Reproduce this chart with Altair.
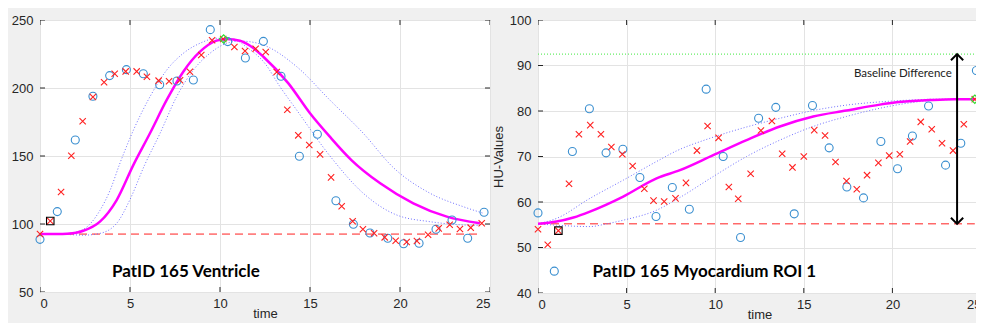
import altair as alt
import pandas as pd

# ---------------- Left panel: PatID 165 Ventricle ----------------
L_circ_t = [0, 0.96, 1.96, 2.94, 3.87, 4.8, 5.74, 6.65, 7.61, 8.52, 9.46, 10.43, 11.41, 12.41,
            13.39, 14.41, 15.41, 16.44, 17.41, 18.33, 19.32, 20.2, 21.06, 22.0, 22.89, 23.76, 24.67]
L_circ_v = [88.7, 109.1, 161.8, 193.9, 209.1, 213.5, 210.5, 202.4, 205.1, 205.9, 242.9, 234.1, 222.1, 234.3,
            208.6, 149.8, 166.0, 117.1, 99.8, 93.4, 89.5, 85.5, 85.8, 96.1, 102.9, 89.5, 108.6]

L_x_t = [0, 0.57, 1.17, 1.74, 2.37, 2.94, 3.56, 4.15, 4.76, 5.37, 5.94, 6.59, 7.17, 7.78, 8.33, 8.96,
         9.56, 10.18, 10.8, 11.39, 11.98, 12.54, 13.15, 13.74, 14.35, 14.96, 15.56, 16.17, 16.76, 17.37,
         17.94, 18.56, 19.15, 19.76, 20.37, 20.94, 21.56, 22.15, 22.76, 23.33, 23.93, 24.54]
L_x_v = [92.6, 102.2, 123.5, 150.2, 175.5, 193.4, 204.2, 210.5, 212.2, 212.2, 208.3, 205.4, 205.0, 205.7,
         212.0, 224.3, 235.1, 236.0, 230.1, 227.2, 228.9, 226.5, 211.8, 184.0, 165.2, 158.1, 151.2, 134.3,
         113.0, 102.0, 96.1, 93.2, 90.2, 87.7, 86.8, 87.5, 92.1, 96.8, 99.5, 96.3, 97.3, 100.5]

L_fit_t = [0, 1.0, 1.5, 2.0, 2.41, 3.33, 4.26, 5.19, 6.11, 7.04, 7.96, 8.89, 9.81, 10.37, 11.11, 11.67,
           12.41, 13.8, 15.0, 16.1, 17.3, 18.9, 20.74, 22.6, 24.44]
L_fit_v = [92.6, 92.6, 92.8, 93.5, 95.0, 101.7, 117.6, 143.5, 166.7, 191.2, 212.0, 226.7, 234.8, 236.0,
           234.8, 231.1, 223.0, 203.4, 181.4, 164.2, 147.0, 129.9, 115.2, 105.4, 100.5]

L_ciA_t = [0, 1.5, 2.4, 3.33, 3.9, 4.45, 5.19, 6.11, 7.04, 7.96, 8.89, 9.81, 10.74, 11.48, 12.5,
           13.33, 14.26, 16.11, 17.96, 19.82, 21.67, 23.52, 24.44]
L_ciA_v = [92.6, 93.0, 96.0, 110.0, 125.0, 145.0, 169.0, 193.6, 213.2, 225.5, 232.9, 236.5, 236.0, 230.0,
           218.0, 201.0, 183.8, 150.0, 122.6, 106.6, 101.7, 99.3, 99.0]
L_ciB_t = [0, 1.5, 2.41, 3.3, 4.26, 5.0, 5.8, 6.67, 7.59, 8.52, 9.44, 10.37, 11.1, 11.67, 12.41, 14.26,
           16.1, 17.96, 19.63, 21.67, 23.52, 24.63]
L_ciB_v = [92.6, 92.3, 91.8, 93.0, 100.5, 118.0, 143.0, 166.7, 193.6, 213.2, 225.5, 232.9, 234.5, 234.0,
           231.6, 215.7, 191.2, 166.7, 141.5, 122.6, 112.7, 107.9]

L_base = 92.6
L_base_end = 24.4
L_peak = (10.2, 236.0)
L_start = (0.57, 102.2)
L_label = "PatID 165 Ventricle"
L_label_pos = (4.0, 65.0)

# ---------------- Right panel: PatID 165 Myocardium ROI 1 ----------------
R_circ_t = [0, 0.92, 1.94, 2.9, 3.84, 4.79, 5.75, 6.66, 7.58, 8.54, 9.49, 10.45, 11.43, 12.45, 13.42,
            14.46, 15.49, 16.43, 17.43, 18.37, 19.35, 20.29, 21.13, 22.04, 23.0, 23.86, 24.74]
R_circ_v = [57.6, 44.8, 71.1, 80.5, 70.8, 71.6, 65.4, 56.8, 63.2, 58.4, 84.8, 70.0, 52.2, 78.4, 80.8,
            57.4, 81.2, 71.9, 63.3, 60.9, 73.3, 67.3, 74.5, 81.1, 68.1, 72.9, 88.9]

R_x_t = [0, 0.55, 1.15, 1.75, 2.31, 2.95, 3.55, 4.14, 4.76, 5.34, 6.0, 6.52, 7.12, 7.76, 8.35, 8.97,
         9.57, 10.19, 10.77, 11.3, 12.0, 12.58, 13.2, 13.78, 14.36, 15.0, 15.59, 16.2, 16.79, 17.41,
         17.99, 18.57, 19.21, 19.82, 20.42, 21.0, 21.6, 22.22, 22.8, 23.42, 24.03, 24.65]
R_x_v = [54.0, 50.6, 53.7, 64.0, 74.9, 76.9, 74.9, 72.1, 70.5, 67.9, 62.9, 60.3, 60.1, 60.8, 64.2, 71.3,
         76.7, 74.1, 63.3, 60.7, 66.2, 75.7, 77.8, 70.6, 67.6, 70.0, 75.8, 74.6, 68.8, 64.6,
         62.8, 65.9, 68.6, 70.2, 70.5, 73.3, 77.6, 76.0, 72.9, 71.3, 77.1, 82.6]

R_fit_t = [0, 1.05, 2.0, 2.93, 4.81, 6.69, 8.01, 9.89, 11.77, 13.65, 15.53, 17.41, 19.29, 20.23, 22.1,
           23.5, 24.65]
R_fit_v = [55.2, 55.7, 56.6, 57.9, 61.2, 65.2, 67.0, 70.3, 73.6, 76.6, 78.8, 80.1, 81.4, 81.9, 82.4,
           82.6, 82.6]
R_ciA_t = [0, 1.05, 2.93, 4.81, 6.69, 7.8, 9.7, 11.6, 13.65, 15.53, 17.41, 19.29, 21.0, 22.5, 24.65]
R_ciA_v = [55.2, 56.4, 60.8, 64.8, 68.9, 71.2, 74.0, 76.3, 78.4, 80.1, 81.3, 82.0, 82.4, 82.6, 82.6]
R_ciB_t = [0, 1.05, 2.93, 3.87, 4.81, 6.69, 8.01, 9.89, 11.77, 13.65, 15.53, 17.41, 19.29, 21.0, 22.5,
           24.65]
R_ciB_v = [55.2, 54.9, 54.6, 55.2, 56.0, 58.2, 61.0, 65.6, 70.0, 73.6, 76.6, 78.8, 80.6, 81.8, 82.4,
           82.6]

R_base = 55.2
R_base_end = 24.65
R_top = 92.5
R_peak = (24.65, 82.6)
R_start = (1.15, 53.7)
R_arrow_t = 23.65
R_label = "PatID 165 Myocardium ROI 1"
R_label_pos = (3.08, 44.7)
R_note = "Baseline Difference"
R_note_pos = (23.35, 88.2)

X_DOMAIN = [0, 25]
X_TICKS = [0, 5, 10, 15, 20, 25]
L_Y_DOMAIN = [50, 250]
L_Y_TICKS = [50, 100, 150, 200, 250]
R_Y_DOMAIN = [40, 100]
R_Y_TICKS = [40, 50, 60, 70, 80, 90, 100]

AX = "#262626"
BLUE = "#3a8fd0"
RED = "#ff2020"
MAG = "#ff00ff"
CI = "#7070ff"
GREEN = "#33dd33"
CROSS = "M-1,-1L1,1M-1,1L1,-1"


def df(t, v):
    return pd.DataFrame({"t": t, "v": v})


def panel(circ_t, circ_v, x_t, x_v, fit_t, fit_v, ciA_t, ciA_v, ciB_t, ciB_v,
          base, base_end, peak, start, label, label_pos, ydom, yticks, ytitle):
    xs = alt.Scale(domain=X_DOMAIN, nice=False)
    ys = alt.Scale(domain=ydom, nice=False)
    xax = alt.Axis(values=X_TICKS, title="time", format="d")
    if ytitle:
        yax = alt.Axis(values=yticks, title=ytitle, format="d")
    else:
        yax = alt.Axis(values=yticks, title=None, format="d")

    # inward (MATLAB-style) tick marks on all four sides, clipped to the plot box
    xt = pd.DataFrame({"v": X_TICKS})
    yt = pd.DataFrame({"v": yticks})
    ticks = []
    for yd in ydom:
        ticks.append(alt.Chart(xt).mark_tick(orient="vertical", size=10, thickness=1, color=AX,
                                             clip=True, opacity=1).encode(
            x=alt.X("v:Q", scale=xs, axis=xax), y=alt.datum(yd, scale=ys, axis=yax)))
    for xd in X_DOMAIN:
        ticks.append(alt.Chart(yt).mark_tick(orient="horizontal", size=10, thickness=1, color=AX,
                                             clip=True, opacity=1).encode(
            y=alt.Y("v:Q", scale=ys, axis=yax), x=alt.datum(xd, scale=xs, axis=xax)))

    base_df = pd.DataFrame({"t0": [0], "t1": [base_end], "v": [base]})
    baseline = alt.Chart(base_df).mark_rule(color=RED, stroke=RED, strokeDash=[8, 5],
                                            strokeWidth=1, opacity=1).encode(
        x="t0:Q", x2="t1:Q", y="v:Q")

    ciA = alt.Chart(df(ciA_t, ciA_v)).mark_line(color=CI, strokeDash=[1, 2], strokeWidth=1,
                                                interpolate="monotone").encode(
        x="t:Q", y="v:Q", order="t:Q")
    ciB = alt.Chart(df(ciB_t, ciB_v)).mark_line(color=CI, strokeDash=[1, 2], strokeWidth=1,
                                                interpolate="monotone").encode(
        x="t:Q", y="v:Q", order="t:Q")
    fit = alt.Chart(df(fit_t, fit_v)).mark_line(color=MAG, strokeWidth=2.5, interpolate="monotone").encode(
        x="t:Q", y="v:Q", order="t:Q")
    circ = alt.Chart(df(circ_t, circ_v)).mark_point(shape="circle", size=64, color=BLUE, strokeWidth=1.1,
                                                    filled=False, opacity=1).encode(x="t:Q", y="v:Q")
    crosses = alt.Chart(df(x_t, x_v)).mark_point(shape=CROSS, size=40, color=RED, strokeWidth=1.1,
                                                 filled=False, opacity=1).encode(x="t:Q", y="v:Q")
    sq = alt.Chart(df([start[0]], [start[1]])).mark_point(shape="square", size=56, color="black",
                                                          strokeWidth=1.1, filled=False,
                                                          opacity=1).encode(x="t:Q", y="v:Q")
    dia = alt.Chart(df([peak[0]], [peak[1]])).mark_point(shape="diamond", size=70, color=GREEN,
                                                         strokeWidth=1.2, filled=False,
                                                         opacity=1).encode(x="t:Q", y="v:Q")
    txt = alt.Chart(pd.DataFrame({"t": [label_pos[0]], "v": [label_pos[1]], "s": [label]})).mark_text(
        align="left", baseline="middle", font="Lato", fontWeight="bold", fontSize=17, color="black").encode(
        x="t:Q", y="v:Q", text="s:N")
    return ticks + [baseline, ciA, ciB, fit, circ, crosses, sq, dia, txt]


Llayers = panel(L_circ_t, L_circ_v, L_x_t, L_x_v, L_fit_t, L_fit_v, L_ciA_t, L_ciA_v, L_ciB_t, L_ciB_v,
                L_base, L_base_end, L_peak, L_start, L_label, L_label_pos, L_Y_DOMAIN, L_Y_TICKS, None)
left = alt.layer(*Llayers).properties(width=450, height=272)

Rlayers = panel(R_circ_t, R_circ_v, R_x_t, R_x_v, R_fit_t, R_fit_v, R_ciA_t, R_ciA_v, R_ciB_t, R_ciB_v,
                R_base, R_base_end, R_peak, R_start, R_label, R_label_pos, R_Y_DOMAIN, R_Y_TICKS, "HU-Values")
top_df = pd.DataFrame({"t0": [0], "t1": [R_base_end], "v": [R_top]})
green_line = alt.Chart(top_df).mark_rule(color="#66ee66", stroke="#66ee66", strokeDash=[1, 2],
                                         strokeWidth=1.2, opacity=1).encode(x="t0:Q", x2="t1:Q", y="v:Q")
arr_df = pd.DataFrame({"t": [R_arrow_t], "v0": [R_base], "v1": [R_top]})
arrow = alt.Chart(arr_df).mark_rule(color="black", stroke="black", strokeWidth=2, opacity=1).encode(
    x="t:Q", y="v0:Q", y2="v1:Q")
head_top = alt.Chart(df([R_arrow_t], [R_top])).mark_point(shape="M-1,1L0,0L1,1", size=150, color="black",
                                                          strokeWidth=2, filled=False,
                                                          opacity=1).encode(x="t:Q", y="v:Q")
head_bot = alt.Chart(df([R_arrow_t], [R_base])).mark_point(shape="M-1,-1L0,0L1,-1", size=150, color="black",
                                                           strokeWidth=2, filled=False,
                                                           opacity=1).encode(x="t:Q", y="v:Q")
note = alt.Chart(pd.DataFrame({"t": [R_note_pos[0]], "v": [R_note_pos[1]], "s": [R_note]})).mark_text(
    align="right", baseline="middle", font="Lato", fontSize=11.5, color="#222222").encode(
    x="t:Q", y="v:Q", text="s:N")
right = alt.layer(*(Rlayers[:5] + [green_line] + Rlayers[5:] + [arrow, head_top, head_bot, note])).properties(
    width=443, height=273)

chart = alt.hconcat(left, right, spacing=48, bounds="flush").properties(
    autosize=alt.AutoSizeParams(type="none"),
    padding={"left": 32, "top": 12, "right": 936, "bottom": 303}
).configure(background="#f0f0f0").configure_view(
    stroke="#444444", strokeWidth=1, fill="white"
).configure_axis(
    labelFont="Liberation Sans", labelFontSize=13, labelColor=AX, titleFont="Liberation Sans",
    titleFontSize=13, titleFontWeight="normal", titleColor=AX, grid=True, gridColor="#e3e3e3",
    gridWidth=1, domain=False, ticks=False, labelPadding=7
).configure_axisX(labelPadding=5, titlePadding=-3).configure_axisY(titlePadding=4)

chart.save("out.html", embed_options={"renderer": "svg", "actions": False})
